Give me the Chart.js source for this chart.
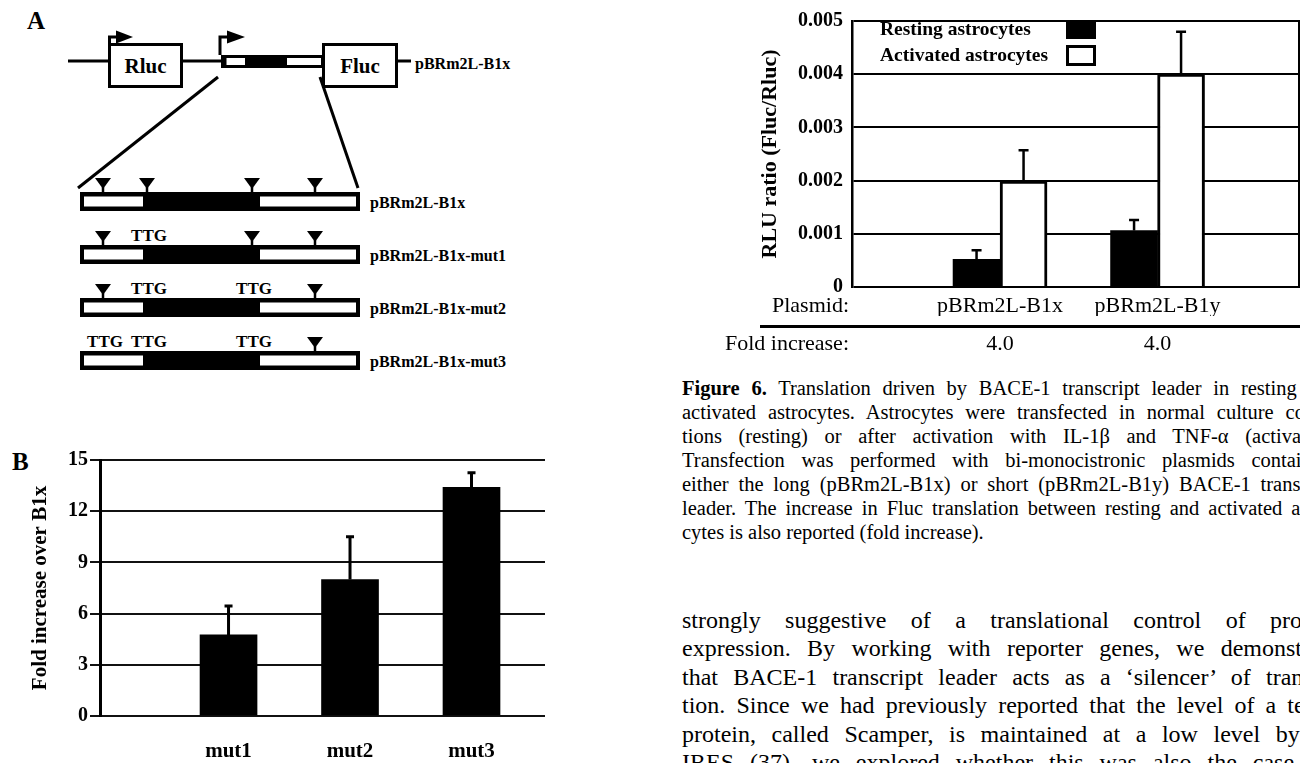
<!DOCTYPE html>
<html>
<head>
<meta charset="utf-8">
<script src="https://cdn.jsdelivr.net/npm/chart.js@4.4.1/dist/chart.umd.min.js"></script>
<style>
  html, body { margin: 0; padding: 0; background: #fff; }
  body { width: 1300px; height: 763px; position: relative; overflow: hidden; font-family: "Liberation Serif", "Times New Roman", serif; color: #000; }
  .abs { position: absolute; }
  svg text { font-family: "Liberation Serif", serif; font-weight: bold; fill: #000; }
  .legtxt { font-weight: bold; font-size: 19.5px; line-height: 26px; white-space: nowrap; }
  .legbox { position: absolute; width: 30px; box-sizing: border-box; border: 3px solid #000; }
  .row6 { font-size: 22px; white-space: nowrap; text-align: right; width: 200px; }
  .col { width: 656px; }
  .col div { text-align: justify; text-align-last: justify; }
  .col div.last { text-align-last: left; }
  #caption { font-size: 20.5px; line-height: 24px; }
  #bodytext { font-size: 24px; line-height: 28.4px; }
</style>
</head>
<body>

<svg id="panelA" class="abs" style="left:0;top:0" width="560" height="380" viewBox="0 0 560 380"></svg>
<div class="abs" style="left:12px;top:448px;font-weight:bold;font-size:25px;">B</div>

<canvas id="chartB" class="abs" style="left:0;top:440px" width="545" height="323"></canvas>
<canvas id="chart6" class="abs" style="left:740px;top:0" width="560" height="365"></canvas>

<!-- legend of figure 6 -->
<div class="abs legtxt" style="left:880px;top:16px">Resting astrocytes</div>
<div class="abs legtxt" style="left:880px;top:42px">Activated astrocytes</div>
<div class="legbox" style="left:1066px;top:20px;height:19px;background:#000"></div>
<div class="legbox" style="left:1066px;top:45px;height:21px;background:#fff"></div>

<div class="abs row6" style="left:649px;top:292px">Plasmid:</div>
<div class="abs" style="left:760px;top:325px;width:540px;height:2.5px;background:#000"></div>
<div class="abs row6" style="left:649px;top:330px">Fold increase:</div>

<div id="caption" class="abs col" style="left:682px;top:376px">
  <div><b>Figure 6.</b> Translation driven by BACE-1 transcript leader in resting and</div>
  <div>activated astrocytes. Astrocytes were transfected in normal culture condi-</div>
  <div>tions (resting) or after activation with IL-1β and TNF-α (activated).</div>
  <div>Transfection was performed with bi-monocistronic plasmids containing</div>
  <div>either the long (pBRm2L-B1x) or short (pBRm2L-B1y) BACE-1 transcript</div>
  <div>leader. The increase in Fluc translation between resting and activated astro-</div>
  <div class="last">cytes is also reported (fold increase).</div>
</div>

<div id="bodytext" class="abs col" style="left:682px;top:606px">
  <div>strongly suggestive of a translational control of protein</div>
  <div style="width:668px">expression. By working with reporter genes, we demonstrated</div>
  <div>that BACE-1 transcript leader acts as a ‘silencer’ of transla-</div>
  <div>tion. Since we had previously reported that the level of a tetra-</div>
  <div>protein, called Scamper, is maintained at a low level by its</div>
  <div>IRES (37), we explored whether this was also the case for</div>
</div>

<script>
// ---- panel B : fold increase over B1x
const mutLabels = ['mut1', 'mut2', 'mut3']
const mutFold = [4.75, 8.0, 13.4]
const mutErr = [1.7, 2.5, 0.85]
const mutTicks = [0, 3, 6, 9, 12, 15]

// ---- figure 6 : RLU ratio
const plasmids = ['pBRm2L-B1x', 'pBRm2L-B1y']
const resting = [0.00052, 0.00106]
const restingErr = [0.00017, 0.0002]
const activated = [0.00199, 0.004]
const activatedErr = [0.00058, 0.0008]
const foldIncrease = ['4.0', '4.0']
const rluTicks = [0, 0.001, 0.002, 0.003, 0.004, 0.005]

// ---- panel A schematic (not data, just the drawing)
const rowNames = ['pBRm2L-B1x', 'pBRm2L-B1x-mut1', 'pBRm2L-B1x-mut2', 'pBRm2L-B1x-mut3']
const rowMarks = [['v', 'v', 'v', 'v'], ['v', 'TTG', 'v', 'v'], ['v', 'TTG', 'TTG', 'v'], ['TTG', 'TTG', 'TTG', 'v']]
const markX = [103, 147, 252, 315]

const serif = '"Liberation Serif", "Times New Roman", serif'

function drawPanelA(){
    let s = ''
    s += '<text x="27" y="29" font-size="25">A</text>'
    s += '<line x1="68" y1="61" x2="109" y2="61" stroke="#000" stroke-width="3"/>'
    s += '<rect x="109.5" y="44.5" width="72" height="42" fill="#fff" stroke="#000" stroke-width="3"/>'
    s += '<text x="145.5" y="66" font-size="21" text-anchor="middle" dominant-baseline="central">Rluc</text>'
    s += '<line x1="181" y1="61" x2="222" y2="61" stroke="#000" stroke-width="3"/>'
    s += '<rect x="221" y="55" width="102" height="13" fill="#000"/>'
    s += '<rect x="226.5" y="58" width="18.5" height="7" fill="#fff"/>'
    s += '<rect x="287" y="58" width="34" height="7" fill="#fff"/>'
    s += '<rect x="323.5" y="44.5" width="73" height="42" fill="#fff" stroke="#000" stroke-width="3"/>'
    s += '<text x="360" y="66" font-size="21" text-anchor="middle" dominant-baseline="central">Fluc</text>'
    s += '<line x1="396" y1="61" x2="411" y2="61" stroke="#000" stroke-width="3"/>'
    s += '<text x="415" y="63" font-size="16" dominant-baseline="central">pBRm2L-B1x</text>'
    // bent promoter arrows
    s += '<path d="M109.5 44 V37 H118" fill="none" stroke="#000" stroke-width="3"/>'
    s += '<polygon points="116,30.5 133,37 116,43.5" fill="#000"/>'
    s += '<path d="M220 55 V37 H229" fill="none" stroke="#000" stroke-width="3"/>'
    s += '<polygon points="227,30.5 245,37 227,43.5" fill="#000"/>'
    // zoom lines
    s += '<line x1="218" y1="77" x2="78" y2="188" stroke="#000" stroke-width="3"/>'
    s += '<line x1="320" y1="77" x2="358" y2="188" stroke="#000" stroke-width="3"/>'
    rowNames.forEach((name, r) => {
        const top = 192 + r * 53
        s += `<rect x="80" y="${top}" width="280" height="19" fill="#000"/>`
        s += `<rect x="84" y="${top + 4.5}" width="59" height="10" fill="#fff"/>`
        s += `<rect x="260" y="${top + 4.5}" width="96" height="10" fill="#fff"/>`
        s += `<text x="370" y="${top + 10}" font-size="16" dominant-baseline="central">${name}</text>`
        rowMarks[r].forEach((m, k) => {
            const x = markX[k]
            if(m === 'v') {
                s += `<polygon points="${x - 8},${top - 14} ${x + 8},${top - 14} ${x},${top - 3}" fill="#000"/>`
                s += `<line x1="${x}" y1="${top - 5}" x2="${x}" y2="${top}" stroke="#000" stroke-width="2.5"/>`
            } else {
                s += `<text x="${x + 2}" y="${top - 10}" font-size="17" text-anchor="middle" dominant-baseline="central">${m}</text>`
            }
        })
    })
    document.getElementById('panelA').innerHTML = s
}
drawPanelA()

// error bars drawn from the bar elements and the y scale
const errorBars = {
    id: 'errorBars',
    afterDatasetsDraw(chart){
        const ctx = chart.ctx
        const yScale = chart.scales.y
        chart.data.datasets.forEach((ds, i) => {
            if(!ds.errors) return
            chart.getDatasetMeta(i).data.forEach((bar, j) => {
                const top = yScale.getPixelForValue(ds.data[j].y + ds.errors[j])
                ctx.save()
                ctx.strokeStyle = '#000'
                ctx.lineWidth = ds.errorWidth
                ctx.beginPath()
                ctx.moveTo(bar.x, bar.y)
                ctx.lineTo(bar.x, top)
                ctx.moveTo(bar.x - ds.capHalf, top)
                ctx.lineTo(bar.x + ds.capHalf, top)
                ctx.stroke()
                ctx.restore()
            })
        })
    }
}

Chart.defaults.font.family = serif
Chart.defaults.color = '#000'

new Chart(document.getElementById('chartB'), {
    type: 'bar',
    data: {
        datasets: [{
            data: mutLabels.map((m, i) => ({ x: i + 1, y: mutFold[i] })),
            backgroundColor: '#000',
            borderWidth: 0,
            barThickness: 57,
            errors: mutErr, errorWidth: 3, capHalf: 4
        }]
    },
    options: {
        responsive: false, animation: false, devicePixelRatio: 1,
        layout: { padding: { top: 20, left: 0, right: 0, bottom: 0 } },
        plugins: { legend: { display: false }, tooltip: { enabled: false } },
        scales: {
            x: {
                type: 'linear', min: -0.058, max: 3.605, offset: false,
                grid: { display: false, drawTicks: false }, border: { display: false },
                afterBuildTicks: s => { s.ticks = mutLabels.map((m, i) => ({ value: i + 1 })) },
                ticks: { callback: v => mutLabels[v - 1], autoSkip: false, maxRotation: 0, padding: 23, font: { size: 21, weight: 'bold' } },
                afterFit: s => { s.height = 47 }
            },
            y: {
                min: 0, max: 15,
                afterBuildTicks: s => { s.ticks = mutTicks.map(v => ({ value: v })) },
                ticks: { padding: 2, font: { size: 20, weight: 'bold' } },
                grid: { color: '#111', lineWidth: 2, drawTicks: true, tickLength: 10 },
                border: { color: '#000', width: 3 },
                title: { display: true, text: 'Fold increase over B1x', font: { size: 21, weight: 'bold' }, padding: { top: 28, bottom: 0 } },
                afterFit: s => { s.width = 100 }
            }
        }
    },
    plugins: [errorBars]
})

new Chart(document.getElementById('chart6'), {
    type: 'bar',
    data: {
        datasets: [{
            label: 'Resting astrocytes',
            data: plasmids.map((p, i) => ({ x: i + 1, y: resting[i] })),
            backgroundColor: '#000', borderWidth: 0, barThickness: 47,
            errors: restingErr, errorWidth: 2.5, capHalf: 5
        }, {
            label: 'Activated astrocytes',
            data: plasmids.map((p, i) => ({ x: i + 1, y: activated[i] })),
            backgroundColor: '#fff', borderColor: '#000', borderWidth: 3, barThickness: 47,
            errors: activatedErr, errorWidth: 2.5, capHalf: 5
        }]
    },
    options: {
        responsive: false, animation: false, devicePixelRatio: 1,
        layout: { padding: { top: 14, left: 0, right: 0, bottom: 0 } },
        plugins: { legend: { display: false }, tooltip: { enabled: false } },
        scales: {
            x: {
                type: 'linear', min: 0.06, max: 2.898, offset: false,
                grid: { display: false, drawTicks: false }, border: { display: false },
                afterBuildTicks: s => { s.ticks = plasmids.map((p, i) => ({ value: i + 1 })) },
                ticks: { callback: v => plasmids[v - 1], autoSkip: false, maxRotation: 0, padding: 6, font: { size: 22 } },
                afterFit: s => { s.height = 29 }
            },
            x2: {
                type: 'linear', position: 'bottom', min: 0.06, max: 2.898, offset: false,
                grid: { display: false, drawTicks: false }, border: { display: false },
                afterBuildTicks: s => { s.ticks = foldIncrease.map((f, i) => ({ value: i + 1 })) },
                ticks: { callback: v => foldIncrease[v - 1], autoSkip: false, maxRotation: 0, padding: 15, font: { size: 22 } },
                afterFit: s => { s.height = 49 }
            },
            y: {
                min: 0, max: 0.005,
                afterBuildTicks: s => { s.ticks = rluTicks.map(v => ({ value: v })) },
                ticks: { callback: v => v === 0 ? '0' : v.toFixed(3), padding: 9, font: { size: 20, weight: 'bold' } },
                grid: { color: '#000', lineWidth: 2, drawTicks: false },
                border: { color: '#000', width: 2.5 },
                title: { display: true, text: 'RLU ratio (Fluc/Rluc)', font: { size: 22, weight: 'bold' }, padding: { top: 17, bottom: 0 } },
                afterFit: s => { s.width = 112 }
            },
            y2: {
                position: 'right', min: 0, max: 1,
                grid: { display: false, drawTicks: false },
                ticks: { display: false },
                border: { display: true, color: '#000', width: 2.5 },
                afterFit: s => { s.width = 1 }
            }
        }
    },
    plugins: [errorBars]
})
</script>
</body>
</html>
